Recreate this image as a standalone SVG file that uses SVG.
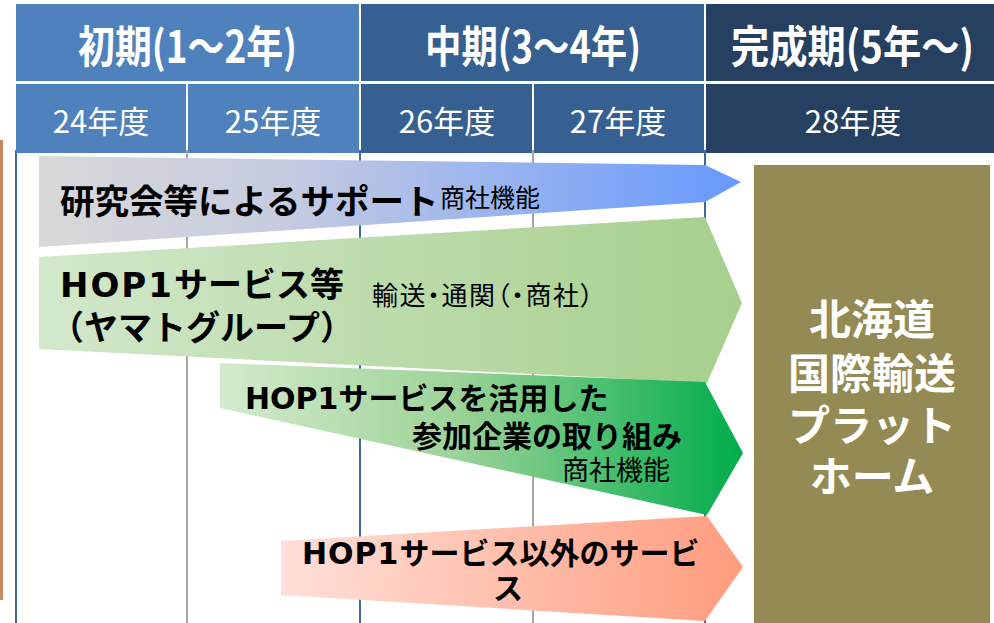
<svg xmlns="http://www.w3.org/2000/svg" width="994" height="623" viewBox="0 0 994 623">
  <defs>
    <linearGradient id="gResearch" x1="0" y1="0" x2="1" y2="0">
      <stop offset="0" stop-color="#D9D9D9"/>
      <stop offset="0.35" stop-color="#C6CBE0"/>
      <stop offset="1" stop-color="#6699FF"/>
    </linearGradient>
    <linearGradient id="gHop1" x1="0" y1="0" x2="1" y2="0">
      <stop offset="0" stop-color="#D2E8CB"/>
      <stop offset="1" stop-color="#A6CF8C"/>
    </linearGradient>
    <linearGradient id="gUse" x1="0" y1="0" x2="1" y2="0">
      <stop offset="0" stop-color="#D4EACC"/>
      <stop offset="0.45" stop-color="#9DD398"/>
      <stop offset="1" stop-color="#00AC4C"/>
    </linearGradient>
    <linearGradient id="gOther" x1="0" y1="0" x2="1" y2="0">
      <stop offset="0" stop-color="#FFE0D9"/>
      <stop offset="1" stop-color="#FF9C7E"/>
    </linearGradient>
    <style>
      .cjk { font-family: "Noto Sans CJK JP", "Liberation Sans", sans-serif; }
      .lat { font-family: "DejaVu Sans", "Liberation Sans", sans-serif; }
      .hd1 { font-size: 44px; font-weight: bold; fill: #FFFFFF; }
      .hd2 { font-size: 31px; fill: #FFFFFF; }
      .big { font-weight: bold; fill: #000000; }
      .small { fill: #000000; }
      .early { fill: #4F81BD; }
      .mid { fill: #376092; }
      .late { fill: #254061; }
      .vblue { stroke: #3E6AA6; stroke-width: 2; }
      .vgray { stroke: #A6A6A6; stroke-width: 2; }
      .plat { font-size: 42px; font-weight: bold; fill: #FFFFFF; }
    </style>
  </defs>

  <rect x="0" y="0" width="994" height="623" fill="#FFFFFF"/>

  <!-- left edge strip -->
  <rect x="0" y="140" width="3" height="460" fill="#C68A60"/>

  <!-- grid lines -->
  <g id="grid">
    <line class="vblue" x1="16" y1="150" x2="16" y2="623"/>
    <line class="vgray" x1="187" y1="150" x2="187" y2="623"/>
    <line class="vblue" x1="360" y1="150" x2="360" y2="623"/>
    <line class="vgray" x1="533" y1="150" x2="533" y2="623"/>
    <line class="vblue" x1="705" y1="150" x2="705" y2="623"/>
  </g>

  <!-- header -->
  <g id="header" class="cjk">
    <rect class="early" x="16" y="4" width="343" height="77"/>
    <rect class="mid" x="361" y="4" width="343" height="77"/>
    <rect class="late" x="706" y="4" width="288" height="77"/>
    <rect class="early" x="16" y="84" width="170" height="69"/>
    <rect class="early" x="188" y="84" width="171" height="69"/>
    <rect class="mid" x="361" y="84" width="171" height="69"/>
    <rect class="mid" x="534" y="84" width="170" height="69"/>
    <rect class="late" x="706" y="84" width="288" height="69"/>
    <text class="hd1" x="78" y="63" textLength="219" lengthAdjust="spacingAndGlyphs">初期(1～2年)</text>
    <text class="hd1" x="425" y="63" textLength="216" lengthAdjust="spacingAndGlyphs">中期(3～4年)</text>
    <text class="hd1" x="731" y="63" textLength="243" lengthAdjust="spacingAndGlyphs">完成期(5年～)</text>
    <text class="hd2" x="101" y="133" text-anchor="middle">24年度</text>
    <text class="hd2" x="273" y="133" text-anchor="middle">25年度</text>
    <text class="hd2" x="447" y="133" text-anchor="middle">26年度</text>
    <text class="hd2" x="618" y="133" text-anchor="middle">27年度</text>
    <text class="hd2" x="853" y="133" text-anchor="middle">28年度</text>
  </g>

  <!-- arrows -->
  <g id="arrow-research" class="cjk">
    <polygon points="39,156 705,165 741,182 705,202 39,247" fill="url(#gResearch)"/>
    <text class="big" x="60" y="214" font-size="34.5">研究会等によるサポート</text>
    <text class="small" x="440" y="207" font-size="25">商社機能</text>
  </g>

  <g id="arrow-hop1" class="cjk">
    <polygon points="39,257 705,217 742,303 707,383 39,349" fill="url(#gHop1)"/>
    <text class="big" x="60" y="297" font-size="34"><tspan class="lat" letter-spacing="2">HOP1</tspan>サービス等</text>
    <text class="big" x="50" y="340" font-size="34">（ヤマトグループ）</text>
    <text class="small" x="372" y="305" font-size="26" letter-spacing="1.5" style="font-feature-settings:'palt'">輸送・通関（・商社）</text>
  </g>

  <g id="arrow-use" class="cjk">
    <polygon points="220,363 705,382 743,453 707,515 220,408" fill="url(#gUse)"/>
    <text class="big" x="245" y="409" font-size="30"><tspan class="lat">HOP1</tspan>サービスを活用した</text>
    <text class="big" x="412" y="447" font-size="30">参加企業の取り組み</text>
    <text class="small" x="562" y="480" font-size="27">商社機能</text>
  </g>

  <g id="arrow-other" class="cjk">
    <polygon points="281,541 707,516 743,567 705,621 281,595" fill="url(#gOther)"/>
    <text class="big" x="302" y="564" font-size="30"><tspan class="lat" letter-spacing="1">HOP1</tspan>サービス以外のサービ</text>
    <text class="big" x="508" y="599" font-size="30" text-anchor="middle">ス</text>
  </g>

  <!-- platform -->
  <g id="platform" class="cjk">
    <rect x="754" y="165" width="236" height="460" fill="#948A54"/>
    <text class="plat" x="872" y="335" text-anchor="middle">北海道</text>
    <text class="plat" x="872" y="389" text-anchor="middle">国際輸送</text>
    <text class="plat" x="872" y="441" text-anchor="middle">プラット</text>
    <text class="plat" x="872" y="492" text-anchor="middle">ホーム</text>
  </g>
</svg>
